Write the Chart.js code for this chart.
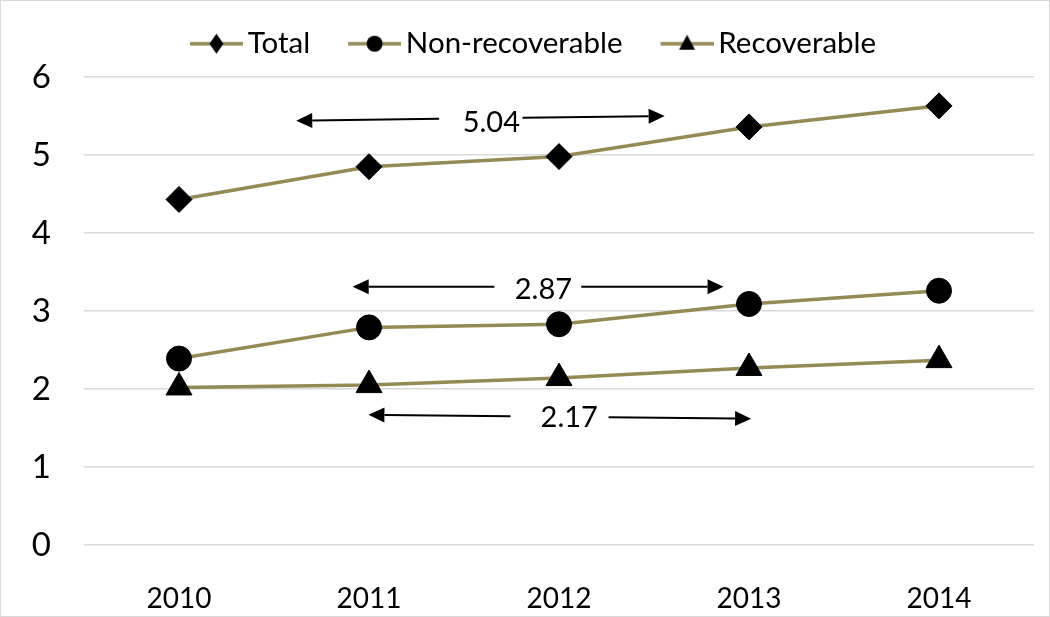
<!DOCTYPE html>
<html>
<head>
<meta charset="utf-8">
<script src="https://cdn.jsdelivr.net/npm/chart.js@4.4.1/dist/chart.umd.min.js"></script>
<style>
  html, body { margin: 0; padding: 0; background: #fff; }
  #wrap { width: 1050px; height: 617px; position: relative; }
</style>
</head>
<body>
<div id="wrap"><canvas id="myChart"></canvas></div>
<script>
// values
const years = ['2010', '2011', '2012', '2013', '2014'];
const total = [4.43, 4.85, 4.98, 5.36, 5.63];
const nonRecoverable = [2.39, 2.79, 2.83, 3.09, 3.26];
const recoverable = [2.02, 2.05, 2.14, 2.27, 2.37];
const seriesNames = ['Total', 'Non-recoverable', 'Recoverable'];
const arrowLabels = ['5.04', '2.87', '2.17'];

const olive = '#948a54';
const fontName = 'Lato, "Open Sans", sans-serif';

// where the double arrows sit, in axis units (category index / y value)
const arrowSpots = [
    { x0: 0.617, x1: 2.556, y0: 5.44, y1: 5.50, gap0: 1.369, gap1: 1.808, tx: 1.644, ty: 5.42 },
    { x0: 0.914, x1: 2.866, y0: 3.31, y1: 3.31, gap0: 1.660, gap1: 2.117, tx: 1.918, ty: 3.27 },
    { x0: 0.997, x1: 3.011, y0: 1.67, y1: 1.62, gap0: 1.745, gap1: 2.261, tx: 2.054, ty: 1.63 }
];

// little line+marker pictures for the legend
function legendIcon(style) {
    const pad = 10, w = 53;
    const c = document.createElement('canvas');
    c.width = w + 2 * pad;
    c.height = 30;
    const g = c.getContext('2d');
    g.strokeStyle = olive;
    g.lineWidth = 3.5;
    g.beginPath();
    g.moveTo(2 * pad, 15);
    g.lineTo(c.width, 15);
    g.stroke();
    const cx = 2 * pad + w / 2, cy = 15;
    g.fillStyle = '#000';
    g.beginPath();
    if (style == 'diamond') {
        g.moveTo(cx, cy - 10); g.lineTo(cx + 7, cy); g.lineTo(cx, cy + 10); g.lineTo(cx - 7, cy);
    } else if (style == 'circle') {
        g.arc(cx, cy, 8, 0, Math.PI * 2);
    } else {
        g.moveTo(cx, cy - 9); g.lineTo(cx + 8, cy + 6); g.lineTo(cx - 8, cy + 6);
    }
    g.closePath();
    g.fill();
    return c;
}
const icons = [legendIcon('diamond'), legendIcon('circle'), legendIcon('triangle')];

function drawArrow(ctx, xa, ya, xb, yb) {
    // line from a to b, head at b
    const ang = Math.atan2(yb - ya, xb - xa);
    const len = 16, half = 7.5;
    const bx = xb - Math.cos(ang) * len, by = yb - Math.sin(ang) * len;
    ctx.beginPath();
    ctx.moveTo(xa, ya);
    ctx.lineTo(bx, by);
    ctx.stroke();
    ctx.beginPath();
    ctx.moveTo(xb, yb);
    ctx.lineTo(bx + Math.sin(ang) * half, by - Math.cos(ang) * half);
    ctx.lineTo(bx - Math.sin(ang) * half, by + Math.cos(ang) * half);
    ctx.closePath();
    ctx.fill();
}

const arrowsPlugin = {
    id: 'arrows',
    afterDatasetsDraw(chart) {
        const ctx = chart.ctx, xs = chart.scales.x, ys = chart.scales.y;
        ctx.save();
        ctx.strokeStyle = '#000';
        ctx.fillStyle = '#000';
        ctx.lineWidth = 2;
        arrowSpots.forEach((a, i) => {
            const yAt = t => a.y0 + (a.y1 - a.y0) * (t - a.x0) / (a.x1 - a.x0);
            drawArrow(ctx, xs.getPixelForValue(a.gap0), ys.getPixelForValue(yAt(a.gap0)),
                xs.getPixelForValue(a.x0), ys.getPixelForValue(a.y0));
            drawArrow(ctx, xs.getPixelForValue(a.gap1), ys.getPixelForValue(yAt(a.gap1)),
                xs.getPixelForValue(a.x1), ys.getPixelForValue(a.y1));
            ctx.font = '29px ' + fontName;
            ctx.textAlign = 'center';
            ctx.textBaseline = 'middle';
            ctx.fillText(arrowLabels[i], xs.getPixelForValue(a.tx), ys.getPixelForValue(a.ty));
        });
        ctx.restore();
    }
};

const framePlugin = {
    id: 'frame',
    beforeInit(chart) {
        // fixed legend height so the plot starts where the original does
        const fit = chart.legend.fit;
        chart.legend.fit = function () {
            fit.bind(this)();
            this.height = 76;
        };
    },
    beforeDraw(chart) {
        const ctx = chart.ctx;
        ctx.save();
        ctx.fillStyle = '#fff';
        ctx.fillRect(0, 0, chart.width, chart.height);
        ctx.restore();
    },
    afterDraw(chart) {
        const ctx = chart.ctx;
        ctx.save();
        ctx.strokeStyle = '#d9d9d9';
        ctx.lineWidth = 1;
        ctx.strokeRect(0.5, 0.5, chart.width - 1, chart.height - 1);
        ctx.restore();
    }
};

function series(label, data, style, radius) {
    return {
        label: label,
        data: data,
        borderColor: olive,
        borderWidth: 3.5,
        pointStyle: style,
        pointRadius: radius,
        pointBackgroundColor: '#000',
        pointBorderColor: '#000',
        pointBorderWidth: 1,
        tension: 0
    };
}

const ctx = document.getElementById('myChart');

let chart = new Chart(ctx, {
    type: 'line',
    data: {
        labels: years,
        datasets: [
            series(seriesNames[0], total, 'rectRot', 13),
            series(seriesNames[1], nonRecoverable, 'circle', 12.5),
            series(seriesNames[2], recoverable, 'triangle', 15)
        ]
    },
    plugins: [framePlugin, arrowsPlugin],
    options: {
        responsive: true,
        maintainAspectRatio: false,
        animation: false,
        layout: { padding: { top: 1, left: 16, right: 10, bottom: 0 } },
        plugins: {
            legend: {
                position: 'top',
                labels: {
                    color: '#000',
                    usePointStyle: true,
                    pointStyleWidth: 53,
                    padding: 28,
                    font: { family: fontName, size: 29.5 },
                    generateLabels: function (chart) {
                        let items = Chart.defaults.plugins.legend.labels.generateLabels(chart);
                        items.forEach((it, i) => { it.pointStyle = icons[i]; });
                        return items;
                    }
                }
            },
            tooltip: { enabled: false }
        },
        scales: {
            x: {
                offset: true,
                grid: { display: false, drawTicks: false },
                border: { display: false },
                ticks: { color: '#000', padding: 37, font: { family: fontName, size: 28 } },
                afterFit: function (scale) { scale.height = 72; }
            },
            y: {
                min: 0,
                max: 6,
                grid: { color: '#d9d9d9', lineWidth: 1.5, drawTicks: false },
                border: { display: false },
                ticks: { stepSize: 1, color: '#000', padding: 33, font: { family: fontName, size: 33 } },
                afterFit: function (scale) { scale.width = 68; }
            }
        }
    }
});
</script>
</body>
</html>
